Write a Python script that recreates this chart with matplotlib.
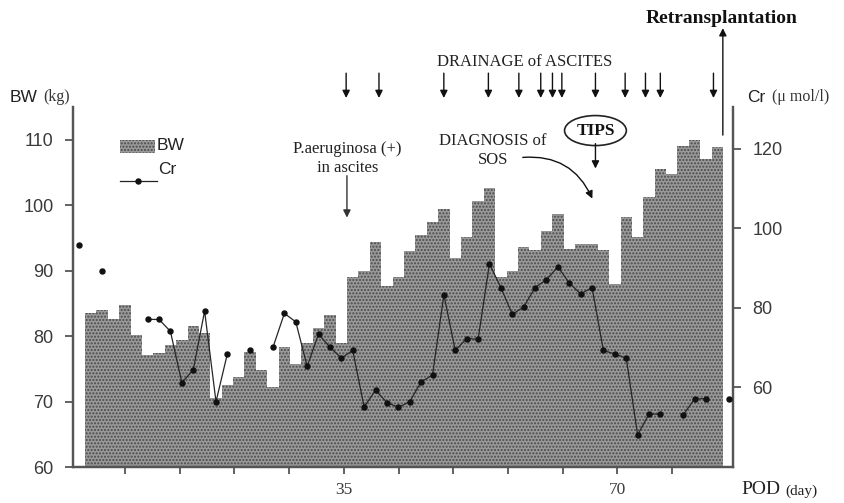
import matplotlib
matplotlib.use("Agg")
import matplotlib.pyplot as plt
from matplotlib.patches import Rectangle
from matplotlib.lines import Line2D
import numpy as np

nan = np.nan

# body weight (kg), one bar per measurement slot
bw = [83.5, 84.0, 82.6, 84.7, 80.1, 77.1, 77.4, 78.6, 79.4, 81.6,
      80.4, 70.5, 72.5, 73.7, 77.6, 74.8, 72.2, 78.3, 75.8, 78.9,
      81.2, 83.2, 78.9, 89.0, 90.0, 94.3, 87.7, 89.0, 93.0, 95.4,
      97.4, 99.4, 91.9, 95.1, 100.7, 102.7, 89.0, 90.0, 93.6, 93.2,
      96.1, 98.7, 93.3, 94.1, 94.1, 93.2, 87.9, 98.2, 95.1, 101.2,
      105.5, 104.8, 109.1, 110.0, 107.1, 108.9]

# creatinine (umol/l), slots -1 .. 56 (nan = not measured)
cr = [95.7, nan, 89.3, nan, nan, nan, 77.1, 77.1, 74.1, 61.2,
      64.4, 79.2, 56.4, 68.5, nan, 69.4, nan, 70.1, 78.6, 76.5,
      65.3, 73.4, 70.1, 67.4, 69.3, 55.1, 59.3, 56.2, 55.0, 56.4,
      61.4, 63.1, 83.3, 69.3, 72.3, 72.1, 91.1, 85.1, 78.4, 80.2,
      85.1, 87.1, 90.3, 86.3, 83.5, 85.1, 69.3, 68.4, 67.4, 48.1,
      53.3, 53.3, nan, 53.1, 57.1, 57.2, nan, 57.2]

# events (POD, day)
drainage_days = [35.3, 39.5, 47.8, 53.5, 57.4, 60.2, 61.7, 62.9,
                 67.2, 71.0, 73.6, 75.5, 82.3]
pseudomonas_day = 35.4
sos_day = 57.9
tips_day = 67.2
retx_day = 83.5

day_ticks = [7, 14, 21, 28, 35, 42, 49, 56, 63, 70, 77]
day_labels = ["", "", "", "", "35", "", "", "", "", "70", ""]

# slot -> day mapping
SLOT0 = 2.61
SLOT = 1.458

SANS = "Liberation Sans"
SERIF = "Liberation Serif"
AXC = "#555555"
TXC = "#3a3a3a"
BARC = "#999999"
DOTC = "#4a4a4a"

fig = plt.figure(figsize=(8.45, 5.03), dpi=100)
ax = fig.add_axes([73 / 845, 36 / 503, 660 / 845, 360 / 503])
ax2 = ax.twinx()

bar_x = SLOT0 + SLOT * np.arange(len(bw))
ax.bar(bar_x, bw, width=SLOT, color=BARC, edgecolor=DOTC,
       hatch=".....", linewidth=0, zorder=2)

cr_x = SLOT0 + SLOT * np.arange(-1, len(cr) - 1)
ax2.plot(cr_x, cr, color="#262626", lw=0.9, marker="o", ms=3.6,
         mfc="#111111", mec="#111111", zorder=3)

ax.set_xlim(0.35, 84.8)
ax.set_ylim(60, 115)
ax2.set_ylim(40, 130.5)
ax.set_yticks([60, 70, 80, 90, 100, 110])
ax2.set_yticks([60, 80, 100, 120])
ax.set_xticks(day_ticks)
ax.set_xticklabels(day_labels, fontfamily=SERIF, fontsize=12.5, color=TXC)

for a in (ax, ax2):
    a.spines["top"].set_visible(False)
    for s in a.spines.values():
        s.set_color(AXC)
        s.set_linewidth(1.6)
    a.tick_params(colors=AXC, width=1.3, length=6, labelcolor=TXC,
                  labelsize=13, pad=8)
for lab in ax.get_yticklabels() + ax2.get_yticklabels():
    lab.set_fontfamily(SANS)
ax.tick_params(axis="x", length=5, pad=6, labelsize=12.5)

# axis titles
fig.text(10 / 845, 1 - 97 / 503, "BW", family=SANS, fontsize=12.5,
         color="#222222", va="center")
fig.text(43 / 845, 1 - 97 / 503, "(kg)", family=SERIF, fontsize=11.5,
         color="#333333", va="center")
fig.text(747 / 845, 1 - 97 / 503, "Cr", family=SANS, fontsize=12.5,
         color="#222222", va="center")
fig.text(772 / 845, 1 - 97 / 503, "(\u03bc mol/l)", family=SERIF,
         fontsize=11.5, color="#333333", va="center")
fig.text(741 / 845, 1 - 490 / 503, "POD", family=SERIF, fontsize=14,
         color="#222222", va="center")
fig.text(785 / 845, 1 - 491 / 503, "(day)", family=SERIF, fontsize=11,
         color="#222222", va="center")

# legend
ax.add_patch(Rectangle((0.0712, 0.872), 0.053, 0.036, transform=ax.transAxes,
                       facecolor=BARC, edgecolor=DOTC, hatch=".....",
                       linewidth=0, zorder=5))
ax.add_line(Line2D([0.0712, 0.127], [0.794, 0.794], transform=ax.transAxes,
                   color="#222222", lw=0.9, zorder=5))
ax.add_line(Line2D([0.098], [0.794], transform=ax.transAxes, marker="o",
                   ms=3.6, color="#111111", zorder=5))
ax.text(0.127, 0.892, "BW", transform=ax.transAxes, family=SANS,
        fontsize=12.5, color="#222222", va="center")
ax.text(0.129, 0.825, "Cr", transform=ax.transAxes, family=SANS,
        fontsize=12.5, color="#222222", va="center")

arrow = dict(arrowstyle="-|>", color="#111111", lw=1.0, mutation_scale=11,
             shrinkA=0, shrinkB=0)
xt = ax.get_xaxis_transform()

# drainage of ascites
for d in drainage_days:
    ax.annotate("", xy=(d, 1.025), xytext=(d, 1.094), xycoords=xt,
                textcoords=xt, arrowprops=arrow, annotation_clip=False)
ax.text(58.1, 1.125, "DRAINAGE of ASCITES", transform=xt, family=SERIF,
        fontsize=12, color="#222222", ha="center", va="center")

# P. aeruginosa
ax.annotate("", xy=(pseudomonas_day, 98.1), xytext=(pseudomonas_day, 104.5),
            arrowprops=dict(arrow, color="#333333"))
ax.text(pseudomonas_day + 0.1, 107.2, "P.aeruginosa (+)\nin ascites",
        family=SERIF, fontsize=12, color="#222222", ha="center",
        va="center", linespacing=1.25)

# diagnosis of SOS
ax.text(54.1, 108.3, "DIAGNOSIS of\nSOS", family=SERIF, fontsize=12,
        color="#222222", ha="center", va="center", linespacing=1.25)
ax.annotate("", xy=(66.8, 101.0), xytext=(sos_day, 107.3),
            arrowprops=dict(arrow, connectionstyle="arc3,rad=-0.35"))

# TIPS
ax.text(tips_day, 111.4, "TIPS", family=SERIF, fontsize=12.5,
        fontweight="bold", color="#111111", ha="center", va="center",
        bbox=dict(boxstyle="ellipse,pad=0.15", fc="white", ec="#222222",
                  lw=1.2))
ax.annotate("", xy=(tips_day, 105.6), xytext=(tips_day, 109.4),
            arrowprops=arrow)

# retransplantation
ax.annotate("", xy=(retx_day, 1.219), xytext=(retx_day, 0.922),
            xycoords=xt, textcoords=xt, arrowprops=arrow,
            annotation_clip=False)
ax.text(retx_day - 0.2, 1.247, "Retransplantation", transform=xt,
        family=SERIF, fontsize=14, fontweight="bold", color="#111111",
        ha="center", va="center")

fig.savefig("out.png", dpi=100)
